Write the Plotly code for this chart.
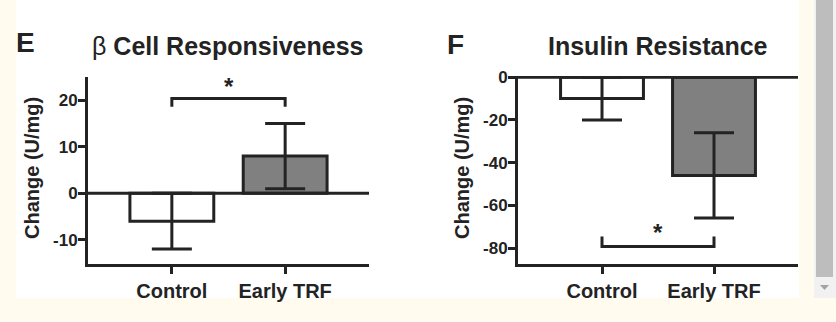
import plotly.graph_objects as go

W, H = 836, 322

# ---- data ----
categories = ["Control", "Early TRF"]
beta_mean = [-6, 8]
beta_err = [6, 7]
ir_mean = [-10, -46]
ir_err = [10, 20]

beta_tickvals = [-10, 0, 10, 20]
beta_ticktext = ["-10", "0", "10", "20"]
ir_tickvals = [-80, -60, -40, -20, 0]
ir_ticktext = ["-80", "-60", "-40", "-20", "0"]

beta_bracket = [18.6, 20.4]   # leg end, bar level
beta_star_y = 23.0
ir_bracket = [-74.6, -79.3]
ir_star_y = -72.8

bar_fill = ["#ffffff", "#808080"]
INK = "#232323"
FONT = "Liberation Sans, Arial, sans-serif"
CREAM = "#fffcef"

def px_x(p):
    return p / W

def px_y(p):
    return 1 - p / H

fig = go.Figure()

xpos = [0, 1]
for (mean, err, xa, ya) in [(beta_mean, beta_err, "x", "y"), (ir_mean, ir_err, "x2", "y2")]:
    fig.add_trace(go.Bar(
        x=xpos, y=mean, width=0.74, xaxis=xa, yaxis=ya,
        marker=dict(color=bar_fill, line=dict(color=INK, width=3)),
        error_y=dict(type="data", array=err, visible=True, thickness=3, width=20, color=INK),
        showlegend=False, hoverinfo="skip",
    ))

line_common = dict(showline=True, linewidth=3, linecolor=INK, showgrid=False, zeroline=False,
                   ticks="outside", ticklen=7, tickwidth=3, tickcolor=INK, automargin=False)
yfont = dict(family=FONT, size=17, color=INK)
xfont = dict(family=FONT, size=20, color=INK)

fig.update_layout(
    width=W, height=H,
    margin=dict(l=0, r=0, t=0, b=0, pad=0, autoexpand=False),
    paper_bgcolor=CREAM, plot_bgcolor="rgba(0,0,0,0)",
    xaxis=dict(domain=[px_x(88), px_x(369)], range=[-0.74, 1.74], anchor="y",
               tickvals=xpos, ticktext=[f"<b>{c}</b>" for c in categories],
               tickfont=xfont, **line_common),
    yaxis=dict(domain=[px_y(264), px_y(77)], range=[-15.2, 25], anchor="x",
               tickvals=beta_tickvals, ticktext=[f"<b>{t}</b>" for t in beta_ticktext],
               tickfont=yfont, ticklabelstandoff=-3, **line_common),
    xaxis2=dict(domain=[px_x(518), px_x(798)], range=[-0.75, 1.75], anchor="y2",
                tickvals=xpos, ticktext=[f"<b>{c}</b>" for c in categories],
                tickfont=xfont, **line_common),
    yaxis2=dict(domain=[px_y(264), px_y(76)], range=[-87.5, 0.6], anchor="x2",
                tickvals=ir_tickvals, ticktext=[f"<b>{t}</b>" for t in ir_ticktext],
                tickfont=yfont, ticklabelstandoff=-3, **line_common),
)

shapes = []
# white figure area
shapes.append(dict(type="rect", xref="paper", yref="paper", x0=px_x(16), x1=px_x(799),
                   y0=px_y(298), y1=1, fillcolor="#ffffff", line=dict(width=0), layer="below"))
# scrollbar
shapes.append(dict(type="rect", xref="paper", yref="paper", x0=px_x(814), x1=1,
                   y0=px_y(298), y1=1, fillcolor="#f1f1f1", line=dict(width=0), layer="below"))
shapes.append(dict(type="rect", xref="paper", yref="paper", x0=px_x(816), x1=px_x(833),
                   y0=px_y(277), y1=1, fillcolor="#bdbdbd", line=dict(width=0), layer="below"))
shapes.append(dict(type="path", xref="paper", yref="paper",
                   path=f"M {px_x(820)},{px_y(285)} L {px_x(829)},{px_y(285)} L {px_x(824.5)},{px_y(290)} Z",
                   fillcolor="#a3a3a3", line=dict(width=0), layer="below"))
# zero lines
shapes.append(dict(type="line", xref="x domain", yref="y", x0=0, x1=1, y0=0, y1=0,
                   line=dict(color=INK, width=3), layer="above"))
shapes.append(dict(type="line", xref="x2 domain", yref="y2", x0=0, x1=1, y0=0, y1=0,
                   line=dict(color=INK, width=3), layer="above"))
# significance brackets
shapes.append(dict(type="path", xref="x", yref="y",
                   path=f"M 0,{beta_bracket[0]} L 0,{beta_bracket[1]} L 1,{beta_bracket[1]} L 1,{beta_bracket[0]}",
                   line=dict(color=INK, width=3)))
shapes.append(dict(type="path", xref="x2", yref="y2",
                   path=f"M 0,{ir_bracket[0]} L 0,{ir_bracket[1]} L 1,{ir_bracket[1]} L 1,{ir_bracket[0]}",
                   line=dict(color=INK, width=3)))
fig.update_layout(shapes=shapes)

def note(text, x, y, size, xref="paper", yref="paper", **kw):
    return dict(text=text, x=x, y=y, xref=xref, yref=yref, showarrow=False,
                xanchor="center", yanchor="middle",
                font=dict(family=FONT, size=size, color=INK), **kw)

ann = [
    note("<b>*</b>", 0.5, beta_star_y, 24, "x", "y"),
    note("<b>*</b>", 0.5, ir_star_y, 24, "x2", "y2"),
    note("β <b>Cell Responsiveness</b>", px_x(228), px_y(46), 25),
    note("<b>Insulin Resistance</b>", px_x(658), px_y(46), 25),
    note("<b>E</b>", px_x(25), px_y(43), 28),
    note("<b>F</b>", px_x(455), px_y(45), 28),
    note("<b>Change (U/mg)</b>", px_x(32), px_y(168), 20, textangle=-90),
    note("<b>Change (U/mg)</b>", px_x(462), px_y(168), 20, textangle=-90),
]
fig.update_layout(annotations=ann)

fig.write_html("out.html")
